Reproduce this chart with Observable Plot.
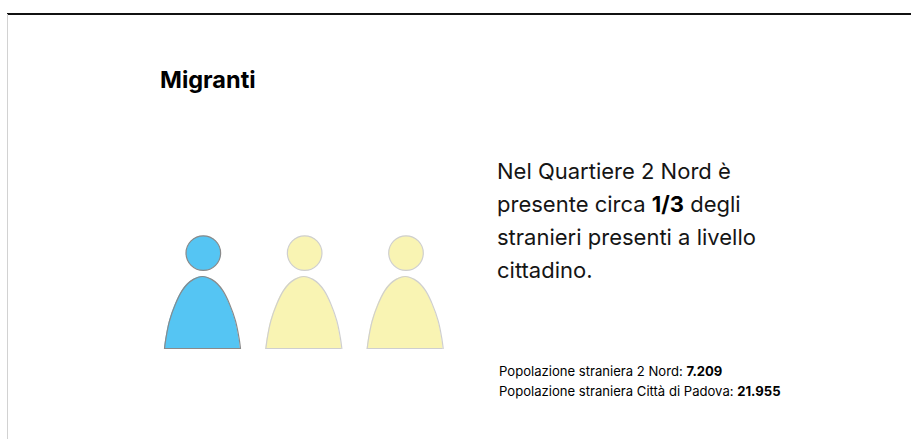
<!DOCTYPE html>
<html lang="it">
<head>
<meta charset="utf-8">
<script src="https://cdn.jsdelivr.net/npm/d3@7"></script>
<script src="https://cdn.jsdelivr.net/npm/@observablehq/plot@0.6"></script>
<style>
  html, body { margin: 0; padding: 0; background: #fff; }
  #page { position: relative; width: 911px; height: 439px; overflow: hidden; font-family: Inter, sans-serif; color: #000; }
  #page svg { position: absolute; left: 0; top: 0; background: transparent; }
  .frame-top { position: absolute; left: 7px; right: 0; top: 13px; height: 2px; background: #111; }
  .frame-left { position: absolute; left: 7px; top: 14px; bottom: 0; width: 1px; background: #d2d2d2; }
  h1 { position: absolute; margin: 0; left: 160px; top: 66px; font-size: 23.5px; line-height: 28px; font-weight: 700; white-space: nowrap; }
  .lead { position: absolute; margin: 0; left: 497px; top: 155px; font-size: 22px; line-height: 33px; font-weight: 400; color: #151515; white-space: nowrap; }
  .note { position: absolute; margin: 0; left: 499px; top: 361px; font-size: 13.1px; line-height: 20px; white-space: nowrap; }
  b { font-weight: 700; color: #000; }
</style>
</head>
<body>
<div id="page">
  <div class="frame-top"></div>
  <div class="frame-left"></div>
  <h1 id="title"></h1>
  <p class="lead" id="lead"></p>
  <p class="note" id="note"></p>
</div>
<script>
// Text content
const title = "Migranti";
const leadLines = ["Nel Quartiere 2 Nord è", "presente circa <b>1/3</b> degli", "stranieri presenti a livello", "cittadino."];
const noteLabels = ["Popolazione straniera 2 Nord:", "Popolazione straniera Città di Padova:"];
const noteValues = ["7.209", "21.955"];

// One figure in three stands for the foreign residents of the district
const people = [0, 1, 2];
const highlighted = [true, false, false];
const fills = ["#55c5f3", "#f9f4b3"];
const strokes = ["#8a8a8a", "#cfcfcf"];

// Figure silhouette: half-width against height, in figure units
const outlineWidth = [-1, -0.96, -0.87, -0.71, -0.54, -0.39, -0.24, -0.11, 0, 0.11, 0.24, 0.39, 0.54, 0.71, 0.87, 0.96, 1];
const outlineHeight = [0, 0.15, 0.38, 0.62, 0.8, 0.9, 0.96, 0.99, 1, 0.99, 0.96, 0.9, 0.8, 0.62, 0.38, 0.15, 0];
const figureHalfWidth = 0.375;
const headHeight = 1.325;
const headShift = 0.008;

document.getElementById("title").textContent = title;
document.getElementById("lead").innerHTML = leadLines.join("<br>");
document.getElementById("note").innerHTML = noteLabels.map((l, i) => `${l} <b>${noteValues[i]}</b>`).join("<br>");

const bodies = people.flatMap(p => outlineWidth.map((w, i) => ({
  person: p,
  x: p + w * figureHalfWidth,
  y: outlineHeight[i],
  kind: highlighted[p] ? 0 : 1
})));
const heads = people.map(p => ({person: p, x: p + headShift, y: headHeight, kind: highlighted[p] ? 0 : 1}));
const fillOf = d => fills[d.kind];
const strokeOf = d => strokes[d.kind];

const plot = Plot.plot({
  width: 911,
  height: 439,
  margin: 0,
  x: {domain: [0, 2], range: [202, 404.7], axis: null},
  y: {domain: [0, 1], range: [348, 276], axis: null},
  marks: [
    Plot.areaY(bodies, {x: "x", y: "y", z: "person", fill: fillOf, curve: "catmull-rom"}),
    Plot.line(bodies, {x: "x", y: "y", z: "person", stroke: strokeOf, strokeWidth: 1.2, curve: "catmull-rom"}),
    Plot.ruleY(people.map(p => ({
      x1: p - figureHalfWidth, x2: p + figureHalfWidth, y: 0, kind: highlighted[p] ? 0 : 1
    })), {x1: "x1", x2: "x2", y: "y", stroke: strokeOf, strokeWidth: 1.2}),
    Plot.dot(heads, {x: "x", y: "y", r: 17.3, fill: fillOf, stroke: strokeOf, strokeWidth: 1.2})
  ]
});
document.getElementById("page").prepend(plot);
</script>
</body>
</html>
